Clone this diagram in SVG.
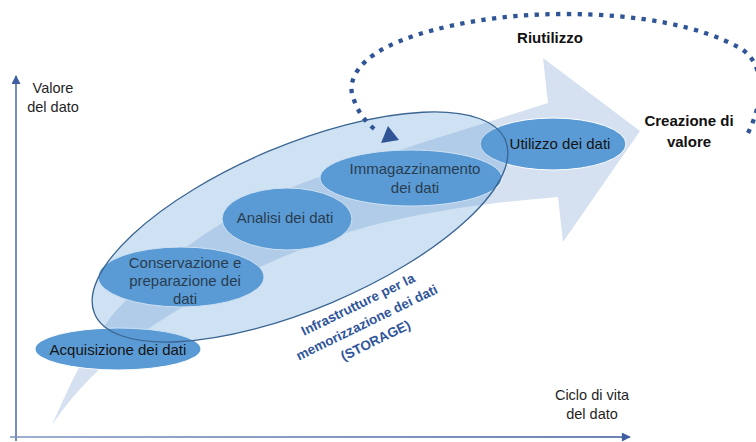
<svg xmlns="http://www.w3.org/2000/svg" width="756" height="442" viewBox="0 0 756 442">
  <style>
    .lbl { font-family: "Liberation Sans", Arial, sans-serif; font-size: 14.5px; fill: #1f1f1f; text-anchor: middle; }
    .bold { font-family: "Liberation Sans", Arial, sans-serif; font-size: 15px; font-weight: bold; fill: #111; text-anchor: middle; }
    .node ellipse { fill: #5b9bd5; stroke: #ffffff; stroke-width: 1; }
    .node text { font-family: "Liberation Sans", Arial, sans-serif; font-size: 15px; fill: #141414; text-anchor: middle; }
    .storage-label { font-family: "Liberation Sans", Arial, sans-serif; font-size: 13.5px; font-weight: bold; fill: #2f559a; text-anchor: middle; }
    .axis { fill: none; stroke-width: 1.6; }
    .dotted { fill: none; stroke: #2f5597; stroke-width: 4.3; stroke-dasharray: 4.3 6.4; }
  </style>
  <defs>
    <marker id="axisHead" viewBox="0 0 10 10" refX="9" refY="5" markerWidth="10" markerHeight="9" markerUnits="userSpaceOnUse" orient="auto">
      <path d="M0,0 L10,5 L0,10 Z" fill="#3f5fa0"/>
    </marker>
    <linearGradient id="hAxis" gradientUnits="userSpaceOnUse" x1="10" y1="0" x2="630" y2="0">
      <stop offset="0" stop-color="#7d93bd"/>
      <stop offset="1" stop-color="#3a5a9c"/>
    </linearGradient>
  </defs>

  <rect width="756" height="442" fill="#ffffff"/>

  <!-- big curved arrow (background) -->
  <g id="lifecycle-arrow">
    <path d="M52,425 C70,385 85,350 110,318 C150,270 220,215 300,184 C380,155 470,128 548,103 L543,58 L640,131 L563,242 L558,197 C480,203 400,215 340,235 C260,262 180,305 140,335 C105,362 75,390 52,425 Z" fill="#d5e0f1"/>
  </g>

  <!-- stage nodes -->
  <g id="node-acquisizione" class="node">
    <ellipse cx="118" cy="349" rx="83" ry="21"/>
    <text x="118" y="355">Acquisizione dei dati</text>
  </g>
  <g id="node-conservazione" class="node">
    <ellipse cx="181" cy="277" rx="83" ry="30"/>
    <text x="185" y="268">Conservazione e</text>
    <text x="185" y="286">preparazione dei</text>
    <text x="185" y="304">dati</text>
  </g>
  <g id="node-analisi" class="node">
    <ellipse cx="287" cy="219" rx="65" ry="31"/>
    <text x="285" y="223">Analisi dei dati</text>
  </g>
  <g id="node-immagazzinamento" class="node">
    <ellipse cx="411" cy="178" rx="91" ry="28"/>
    <text x="415" y="174">Immagazzinamento</text>
    <text x="415" y="193">dei dati</text>
  </g>
  <g id="node-utilizzo" class="node">
    <ellipse cx="553" cy="144" rx="73" ry="26"/>
    <text x="560" y="149">Utilizzo dei dati</text>
  </g>

  <!-- storage infrastructure overlay -->
  <g id="node-storage">
    <ellipse cx="300" cy="227" rx="223" ry="82" transform="rotate(-22.9 300 227)" fill="#5b9bd5" fill-opacity="0.29" stroke="#3a6592" stroke-width="1.3"/>
    <g transform="translate(367,323) rotate(-26)">
      <text class="storage-label" x="0" y="-16">Infrastrutture per la</text>
      <text class="storage-label" x="0" y="4">memorizzazione dei dati</text>
      <text class="storage-label" x="0" y="24">(STORAGE)</text>
    </g>
  </g>

  <!-- connectors -->
  <g id="connectors">
    <line class="axis" x1="16" y1="441" x2="16" y2="76" stroke="#5470a8" marker-end="url(#axisHead)"/>
    <line class="axis" x1="10" y1="437" x2="630" y2="437" stroke="url(#hAxis)" marker-end="url(#axisHead)"/>
    <path class="dotted" d="M748,133 C762,105 768,65 740,48 C700,26 640,14 563,14 C500,14 440,25 400,41 C360,57 345,80 354,100 C358,112 366,123 377,131"/>
    <polygon points="381,143 399,140 388,126" fill="#2f5597"/>
  </g>

  <!-- labels -->
  <g id="label-y-axis">
    <text class="lbl" x="53" y="93">Valore</text>
    <text class="lbl" x="53" y="112">del dato</text>
  </g>
  <g id="label-x-axis">
    <text class="lbl" x="592" y="400">Ciclo di vita</text>
    <text class="lbl" x="592" y="419">del dato</text>
  </g>
  <g id="label-riutilizzo">
    <text class="bold" x="550" y="43">Riutilizzo</text>
  </g>
  <g id="label-creazione">
    <text class="bold" x="689" y="126">Creazione di</text>
    <text class="bold" x="689" y="147">valore</text>
  </g>
</svg>
